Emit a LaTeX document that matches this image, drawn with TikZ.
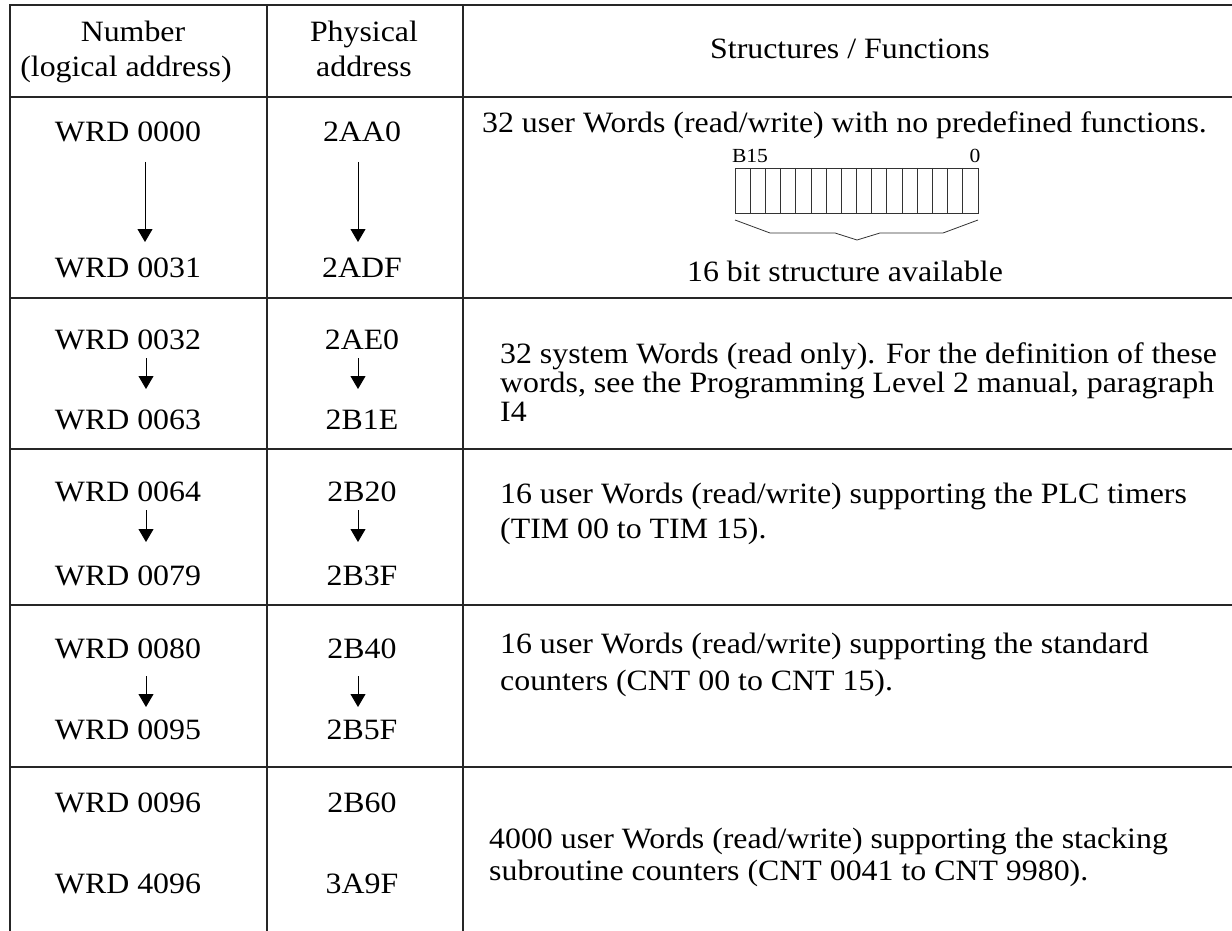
\documentclass[tikz,border=0pt]{standalone}
\usepackage{fontspec}
\setmainfont[FakeStretch=1.08]{Liberation Serif}
\usetikzlibrary{arrows.meta}
\begin{document}
\begin{tikzpicture}[x=1pt,y=-1pt,
  txt/.style={inner sep=0pt, font=\fontsize{29.5}{33}\selectfont, anchor=base},
  txtl/.style={txt, anchor=base west},
  small/.style={inner sep=0pt, font=\fontsize{20}{22}\selectfont, anchor=base},
  frame/.style={line width=2pt, draw=black!85},
  rowline/.style={line width=1.4pt, draw=black!85},
  bits/.style={line width=0.8pt, draw=black!80},
  arr/.style={line width=0.9pt, -{Triangle[length=13pt,width=15pt]}}]
\useasboundingbox (0,0) rectangle (1232,931);
% grid
\draw[frame] (10,931) -- (10,5) -- (1232,5);
\draw[frame] (267,5) -- (267,931);
\draw[frame] (463,5) -- (463,931);
\draw[frame] (10,97) -- (1232,97);
\foreach \yy in {298,449,605,767} \draw[rowline] (10,\yy) -- (1232,\yy);
% header
\node[txt] (h1a) at (133,42) {Number};
\node[txt] (h1b) at (126,77) {(logical address)};
\node[txt] (h2a) at (364,42) {Physical};
\node[txt] (h2b) at (364,77) {address};
\node[txt] (h3) at (850,59) {Structures / Functions};
% row 1
\node[txt] (l0000) at (128,142) {WRD 0000};
\node[txt] (l0031) at (128,277) {WRD 0031};
\node[txt] (p2aa0) at (362,142) {2AA0};
\node[txt] (p2adf) at (362,277) {2ADF};
\coordinate (a1s) at (145,162); \coordinate (a1e) at (145,242);
\coordinate (b1s) at (358,162); \coordinate (b1e) at (358,242);
\draw[arr] (a1s) -- (a1e);
\draw[arr] (b1s) -- (b1e);
\node[txtl] (t1) at (482,133) {32 user Words (read/write) with no predefined functions.};
\node[small] (b15) at (750,163) {B15};
\node[small] (b0) at (975,163) {0};
\draw[bits] (735,168) rectangle (978,213);
\foreach \i in {1,...,15} \draw[bits] (735+\i*15.1875,168) -- ++(0,45);
\draw[bits] (735,220) -- (770,233) -- (835,233) -- (857,240) -- (880,233) -- (943,233) -- (978,220);
\node[txt] (t1b) at (845,281) {16 bit structure available};
% row 2
\node[txt] (l0032) at (128,349) {WRD 0032};
\node[txt] (l0063) at (128,429) {WRD 0063};
\node[txt] (p2ae0) at (362,349) {2AE0};
\node[txt] (p2b1e) at (362,429) {2B1E};
\coordinate (a2s) at (146,358); \coordinate (a2e) at (146,389);
\coordinate (b2s) at (358,358); \coordinate (b2e) at (358,389);
\draw[arr] (a2s) -- (a2e);
\draw[arr] (b2s) -- (b2e);
\node[txtl] (t2a) at (500,363) {32 system Words (read only). For the definition of these};
\node[txtl] (t2b) at (500,392) {words, see the Programming Level 2 manual, paragraph};
\node[txtl] (t2c) at (500,421) {I4};
% row 3
\node[txt] (l0064) at (128,501) {WRD 0064};
\node[txt] (l0079) at (128,585) {WRD 0079};
\node[txt] (p2b20) at (362,501) {2B20};
\node[txt] (p2b3f) at (362,585) {2B3F};
\coordinate (a3s) at (146,510); \coordinate (a3e) at (146,542);
\coordinate (b3s) at (358,510); \coordinate (b3e) at (358,542);
\draw[arr] (a3s) -- (a3e);
\draw[arr] (b3s) -- (b3e);
\node[txtl] (t3a) at (500,503) {16 user Words (read/write) supporting the PLC timers};
\node[txtl] (t3b) at (500,538) {(TIM 00 to TIM 15).};
% row 4
\node[txt] (l0080) at (128,658) {WRD 0080};
\node[txt] (l0095) at (128,739) {WRD 0095};
\node[txt] (p2b40) at (362,658) {2B40};
\node[txt] (p2b5f) at (362,739) {2B5F};
\coordinate (a4s) at (146,676); \coordinate (a4e) at (146,707);
\coordinate (b4s) at (358,676); \coordinate (b4e) at (358,707);
\draw[arr] (a4s) -- (a4e);
\draw[arr] (b4s) -- (b4e);
\node[txtl] (t4a) at (500,653) {16 user Words (read/write) supporting the standard};
\node[txtl] (t4b) at (500,690) {counters (CNT 00 to CNT 15).};
% row 5
\node[txt] (l0096) at (128,812) {WRD 0096};
\node[txt] (l4096) at (128,893) {WRD 4096};
\node[txt] (p2b60) at (362,812) {2B60};
\node[txt] (p3a9f) at (362,893) {3A9F};
\node[txtl] (t5a) at (489,848) {4000 user Words (read/write) supporting the stacking};
\node[txtl] (t5b) at (489,880) {subroutine counters (CNT 0041 to CNT 9980).};
\end{tikzpicture}
\end{document}
